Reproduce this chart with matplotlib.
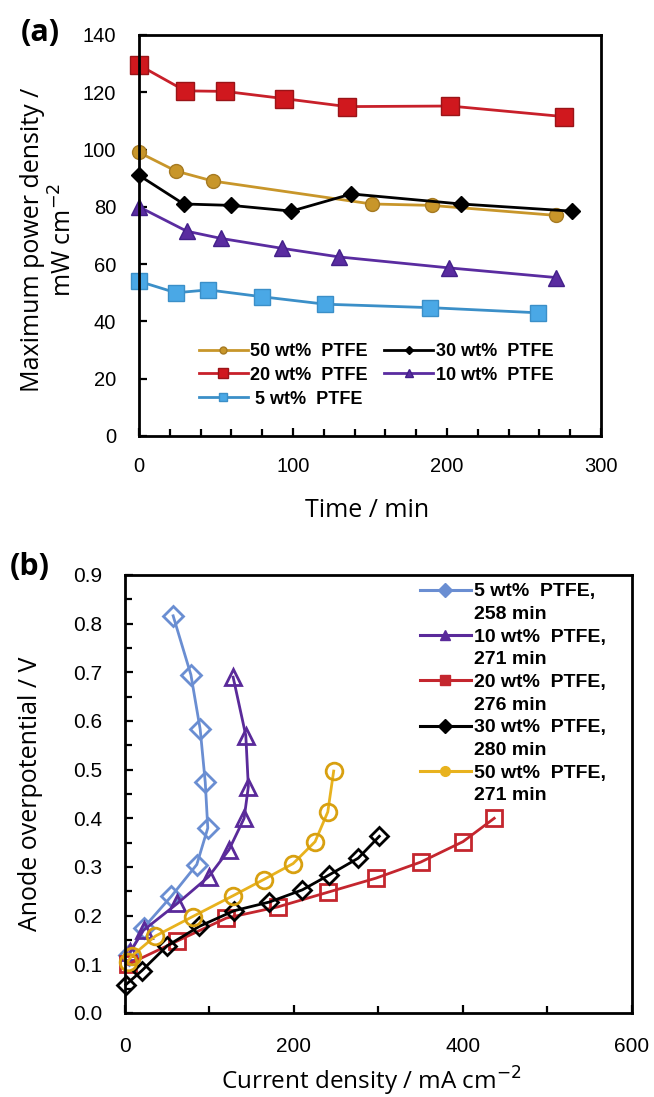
import matplotlib
matplotlib.use("Agg")
from matplotlib import pyplot as plt
from matplotlib.lines import Line2D
from matplotlib.ticker import MultipleLocator

# panel (a): maximum power density vs time
t50 = [0, 24, 48, 151, 190, 271]
p50 = [99, 92.5, 89, 81, 80.5, 77]
t30 = [0, 29, 60, 99, 138, 209, 281]
p30 = [91, 81, 80.5, 78.5, 84.5, 81, 78.5]
t20 = [0, 30, 56, 94, 135, 202, 276]
p20 = [129.5, 120.5, 120.3, 117.8, 115, 115.2, 111.5]
t10 = [0, 31, 53, 93, 130, 201, 271]
p10 = [80, 71.5, 69, 65.5, 62.5, 58.7, 55.3]
t5 = [0, 24, 45, 80, 121, 189, 259]
p5 = [54, 50, 51, 48.6, 46, 44.8, 43]

# panel (b): anode overpotential vs current density
j5 = [57, 78, 89, 95, 98, 85, 55, 22, 5]
v5 = [0.816, 0.695, 0.583, 0.474, 0.38, 0.305, 0.24, 0.175, 0.12]
j10 = [128, 143, 146, 141, 123, 99, 62, 22, 6]
v10 = [0.69, 0.57, 0.465, 0.40, 0.335, 0.28, 0.225, 0.17, 0.125]
j20 = [437, 400, 350, 297, 240, 181, 120, 62, 4]
v20 = [0.40, 0.352, 0.31, 0.277, 0.248, 0.218, 0.195, 0.148, 0.10]
j30 = [301, 276, 241, 210, 171, 129, 88, 50, 20, 1]
v30 = [0.363, 0.318, 0.283, 0.253, 0.228, 0.21, 0.178, 0.138, 0.087, 0.058]
j50 = [247, 240, 225, 199, 164, 128, 80, 36, 8, 3]
v50 = [0.497, 0.413, 0.352, 0.307, 0.274, 0.241, 0.198, 0.158, 0.117, 0.105]

labels_a = ["50 wt%  PTFE", "30 wt%  PTFE", "20 wt%  PTFE", "10 wt%  PTFE", " 5 wt%  PTFE"]
labels_b = [("5 wt%  PTFE,", "258 min"), ("10 wt%  PTFE,", "271 min"),
            ("20 wt%  PTFE,", "276 min"), ("30 wt%  PTFE,", "280 min"),
            ("50 wt%  PTFE,", "271 min")]

TICKFONT = "Liberation Sans"
LABELFONT = "Open Sans"

fig = plt.figure(figsize=(6.54, 10.97), dpi=100)


def style_axes(ax, size, xpad, ypad):
    for s in ["top", "right", "left", "bottom"]:
        ax.spines[s].set_linewidth(2)
    ax.tick_params(which="both", direction="in", top=False, right=False,
                   width=1.6, labelsize=size)
    ax.tick_params(axis="x", which="both", pad=xpad)
    ax.tick_params(axis="y", which="both", pad=ypad)
    ax.tick_params(which="major", length=6)
    ax.tick_params(which="minor", length=5)
    for lab in ax.get_xticklabels() + ax.get_yticklabels():
        lab.set_fontfamily(TICKFONT)


# ---- (a) ----
ax1 = fig.add_axes([0.2125, 0.6026, 0.7064, 0.3655])
ax1.plot(t50, p50, "-o", color="#c8962a", mfc="#c8962a", mec="#a67a22", ms=10, lw=2,
         clip_on=False, label=labels_a[0])
ax1.plot(t30, p30, "-D", color="black", ms=8, lw=2, clip_on=False, label=labels_a[1])
ax1.plot(t20, p20, "-s", color="#c8202a", mfc="#d0181e", mec="#9a1418", ms=13, lw=2,
         clip_on=False, label=labels_a[2])
ax1.plot(t10, p10, "-^", color="#5a2ca0", mfc="#5a2ca0", mec="#43208a", ms=11, lw=2,
         clip_on=False, label=labels_a[3])
ax1.plot(t5, p5, "-s", color="#3b8fc8", mfc="#4aa8e6", mec="#3b8fc8", ms=11, lw=2,
         clip_on=False, label=labels_a[4])
ax1.set_xlim(0, 300)
ax1.set_ylim(0, 140)
ax1.xaxis.set_major_locator(MultipleLocator(100))
ax1.xaxis.set_minor_locator(MultipleLocator(20))
ax1.yaxis.set_major_locator(MultipleLocator(20))
style_axes(ax1, 14.5, 15, 16.5)
ax1.set_xlabel("Time / min", fontfamily=LABELFONT, fontsize=18, va="center")
ax1.xaxis.set_label_coords(0.494, -0.185)
ax1.set_ylabel("Maximum power density /\nmW cm$^{-2}$", fontfamily=LABELFONT,
               fontsize=18, linespacing=1.25, va="center")
ax1.yaxis.set_label_coords(-0.195, 0.49)

h, l = ax1.get_legend_handles_labels()
order = [0, 2, 4, 1, 3]
ax1.legend([h[i] for i in order], [l[i] for i in order], ncol=2, frameon=False,
           loc="upper left", bbox_to_anchor=(0.13, 0.232), borderaxespad=0,
           borderpad=0, handlelength=2.7, handletextpad=0.15, columnspacing=0.9,
           labelspacing=0.38, markerscale=0.5,
           prop={"family": TICKFONT, "weight": "bold", "size": 13})
ax1.text(-0.255, 1.005, "(a)", transform=ax1.transAxes, fontfamily=LABELFONT,
         fontweight="bold", fontsize=22, va="center", ha="left")

# ---- (b) ----
ax2 = fig.add_axes([0.1911, 0.0766, 0.7752, 0.3993])
ax2.plot(j5, v5, "-D", color="#6a8ed2", mfc="none", mec="#6a8ed2", ms=10, mew=2, lw=2,
         clip_on=False)
ax2.plot(j10, v10, "-^", color="#5a2a9a", mfc="none", mec="#5a2a9a", ms=12, mew=2, lw=2,
         clip_on=False)
ax2.plot(j20, v20, "-s", color="#c4262e", mfc="none", mec="#c4262e", ms=12, mew=2, lw=2,
         clip_on=False)
ax2.plot(j30, v30, "-D", color="black", mfc="none", mec="black", ms=9, mew=2, lw=2,
         clip_on=False)
ax2.plot(j50, v50, "-o", color="#e8b21e", mfc="none", mec="#d8a010", ms=12, mew=2, lw=2,
         clip_on=False)
ax2.set_xlim(0, 600)
ax2.set_ylim(0, 0.9)
ax2.xaxis.set_major_locator(MultipleLocator(200))
ax2.xaxis.set_minor_locator(MultipleLocator(100))
ax2.yaxis.set_major_locator(MultipleLocator(0.1))
ax2.yaxis.set_minor_locator(MultipleLocator(0.05))
ax2.yaxis.set_major_formatter(plt.FormatStrFormatter("%.1f"))
style_axes(ax2, 15, 17, 16.5)
ax2.set_xlabel("Current density / mA cm$^{-2}$", fontfamily=LABELFONT, fontsize=17.5,
               va="center")
ax2.xaxis.set_label_coords(0.485, -0.157)
ax2.set_ylabel("Anode overpotential / V", fontfamily=LABELFONT, fontsize=18,
               va="center")
ax2.yaxis.set_label_coords(-0.187, 0.5)

leg_colors = ["#6a8ed2", "#5a2a9a", "#c4262e", "black", "#e8b21e"]
leg_markers = ["D", "^", "s", "D", "o"]
handles = []
texts = []
for c, m, (first, second) in zip(leg_colors, leg_markers, labels_b):
    handles.append(Line2D([], [], color=c, marker=m, ms=7, lw=2.2, mfc=c, mec=c))
    texts.append(first)
    handles.append(Line2D([], [], lw=0, marker=None))
    texts.append(second)
ax2.legend(handles, texts, frameon=False, loc="upper left",
           bbox_to_anchor=(0.582, 0.982), borderaxespad=0, borderpad=0,
           handlelength=2.6, handletextpad=0.2, labelspacing=0.26,
           prop={"family": TICKFONT, "weight": "bold", "size": 14})
ax2.text(-0.227, 1.018, "(b)", transform=ax2.transAxes, fontfamily=LABELFONT,
         fontweight="bold", fontsize=22, va="center", ha="left")

fig.savefig("out.png", dpi=100)
